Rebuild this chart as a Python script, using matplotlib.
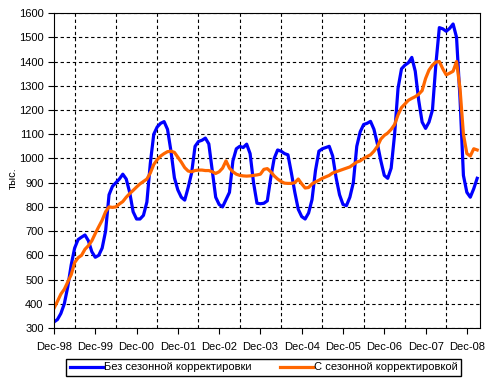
import numpy as np
import matplotlib
matplotlib.use("Agg")
import matplotlib.pyplot as plt
from matplotlib.ticker import FixedLocator

plt.rcParams['font.family'] = ['Liberation Sans', 'DejaVu Sans']

# monthly values, Dec-98 .. Mar-09 (thousands)
raw = [325, 335, 360, 400, 470, 560, 630, 665, 675, 684, 660, 615,
       592, 600, 630, 700, 850, 885, 900, 915, 935, 915, 860, 780,
       750, 750, 765, 820, 980, 1100, 1130, 1145, 1152, 1120, 1030, 920,
       870, 840, 828, 880, 940, 1050, 1070, 1075, 1084, 1060, 950, 840,
       810, 800, 830, 860, 990, 1040, 1050, 1045, 1059, 1020, 900, 815,
       813, 815, 825, 920, 1000, 1035, 1030, 1020, 1015, 940, 860, 790,
       760, 750, 775, 830, 950, 1030, 1040, 1045, 1050, 1010, 920, 850,
       810, 805, 840, 900, 1050, 1110, 1140, 1145, 1153, 1120, 1060, 990,
       930, 918, 960, 1100, 1290, 1370, 1385, 1395, 1417, 1360, 1240, 1150,
       1124, 1150, 1200, 1390, 1540, 1535, 1525, 1537, 1555, 1500, 1250, 930,
       860, 840, 875, 918]
adjusted = [381, 410, 440, 460, 490, 520, 570, 590, 600, 625, 640, 660,
            690, 718, 745, 780, 800, 798, 800, 812, 822, 840, 855, 868,
            882, 895, 905, 915, 940, 975, 995, 1010, 1020, 1028, 1030, 1025,
            1005, 985, 962, 948, 945, 950, 952, 952, 950, 950, 945, 938,
            945, 960, 990, 960, 945, 935, 930, 928, 927, 928, 930, 932,
            935, 955, 958, 945, 928, 915, 905, 898, 897, 897, 900, 915,
            895, 878, 880, 895, 903, 910, 918, 924, 930, 940, 945, 950,
            955, 960, 965, 975, 985, 990, 1000, 1008, 1015, 1030, 1050, 1080,
            1095, 1105, 1120, 1140, 1180, 1210, 1225, 1240, 1248, 1255, 1265, 1280,
            1330, 1365, 1385, 1398, 1400, 1370, 1345, 1352, 1360, 1400, 1290, 1100,
            1020, 1010, 1040, 1035]
year_labels = ['Dec-98', 'Dec-99', 'Dec-00', 'Dec-01', 'Dec-02', 'Dec-03',
               'Dec-04', 'Dec-05', 'Dec-06', 'Dec-07', 'Dec-08']
series_names = ['Без сезонной корректировки', 'С сезонной корректировкой']

months = np.arange(len(raw))

fig = plt.figure(figsize=(4.93, 3.85), dpi=100)
ax = fig.add_axes([0.1095, 0.148, 0.864, 0.818])

l1, = ax.plot(months, raw, color='#0000FF', lw=2.3, solid_joinstyle='round')
l2, = ax.plot(months, adjusted, color='#FF6600', lw=2.3, solid_joinstyle='round')

ax.set_xlim(0, 123.8)
ax.set_ylim(300, 1600)
ax.set_yticks(np.arange(300, 1601, 100))
ax.set_xticks(np.arange(0, 121, 12))
ax.set_xticklabels(year_labels)
ax.xaxis.set_minor_locator(FixedLocator(np.arange(6, 123, 12)))
ax.tick_params(axis='both', which='major', direction='out', length=4,
               width=0.8, labelsize=8, colors='black')
ax.tick_params(axis='x', which='minor', length=0)
ax.tick_params(axis='x', pad=6)

ax.grid(axis='y', which='major', color='black', ls=(0, (3, 2.5)), lw=0.8)
ax.grid(axis='x', which='minor', color='black', ls=(0, (3, 2.5)), lw=0.8)
for s in ax.spines.values():
    s.set_color('black')
    s.set_linewidth(0.8)

# unit label on the left
fig.text(13 / 493, 1 - 178 / 385, 'тыс.', rotation=90, fontsize=8,
         ha='center', va='center')

fig.legend([l1, l2], series_names, loc='center',
           bbox_to_anchor=(0.535, 0.0455), ncol=2, fontsize=8,
           frameon=True, fancybox=False, edgecolor='black',
           handlelength=3.0, handletextpad=0.1, columnspacing=2.5,
           borderpad=0.3, framealpha=1)

fig.savefig('out.png', dpi=100)
